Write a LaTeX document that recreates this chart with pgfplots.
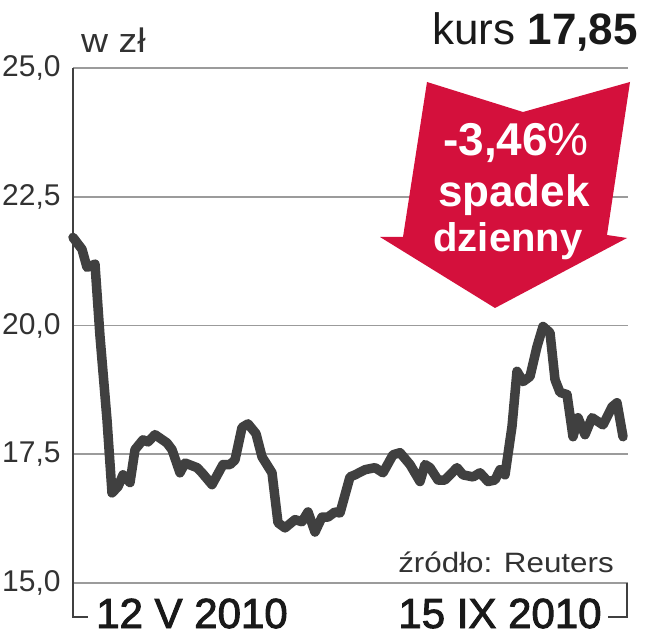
\documentclass[border=0pt]{standalone}
\usepackage{pgfplots}
\pgfplotsset{compat=1.18}
\usepackage{fontspec}
\setmainfont{Liberation Sans}
\definecolor{arrowred}{RGB}{212,16,60}
\definecolor{linegray}{RGB}{64,64,64}
\definecolor{gridgray}{RGB}{155,155,155}
\definecolor{txt}{RGB}{50,50,50}
\begin{document}
\begin{tikzpicture}
\useasboundingbox (0pt,0pt) rectangle (645pt,640pt);
\begin{axis}[
  at={(73pt,57pt)}, anchor=south west, scale only axis,
  width=555pt, height=515pt,
  xmin=73, xmax=628, ymin=15, ymax=25,
  axis line style={draw=none},
  xtick=\empty,
  ytick={15,17.5,20,22.5,25},
  yticklabels={{15,0},{17,5},{20,0},{22,5},{25,0}},
  ymajorgrids, grid style={gridgray, line width=1.8pt},
  major tick length=0pt,
  yticklabel style={anchor=west, xshift=-71pt, inner sep=0pt,
    font=\fontsize{30}{30}\selectfont, text=txt},
  clip=false,
]
\addplot[linegray, line width=9.5pt, line join=round, line cap=round] coordinates {
(73,21.71) (82,21.48) (87,21.13) (95,21.19) (100,19.79) (107,18.17)
(112,16.75) (118,16.87) (123,17.10) (130,16.95) (135,17.59) (143,17.78)
(148,17.74) (155,17.88) (167,17.72) (172,17.59) (180,17.14) (185,17.33)
(197,17.24) (202,17.14) (212,16.91) (223,17.30) (230,17.30) (235,17.39)
(242,18.02) (248,18.09) (256,17.90) (262,17.45) (272,17.14) (278,16.17)
(285,16.07) (295,16.23) (302,16.19) (308,16.38) (315,15.99) (322,16.28)
(328,16.28) (335,16.38) (340,16.36) (350,17.06) (355,17.10) (365,17.20)
(375,17.24) (383,17.14) (393,17.49) (400,17.53) (410,17.30) (420,16.97)
(425,17.30) (430,17.24) (438,17.00) (445,17.00) (457,17.24) (463,17.10)
(473,17.06) (480,17.14) (488,16.97) (495,17.00) (500,17.20) (505,17.10)
(512,18.04) (517,19.11) (523,18.91) (530,19.01) (537,19.59) (543,19.98)
(550,19.86) (555,18.95) (560,18.70) (567,18.66) (573,17.84) (578,18.21)
(585,17.88) (592,18.21) (603,18.07) (612,18.42) (617,18.50) (623,17.84)
};
\end{axis}
% left axis line and bracket
\draw[linegray, line width=1.8pt] (73pt,572pt) -- (73pt,23pt) -- (88pt,23pt);
\draw[linegray, line width=1.8pt] (608pt,23pt) -- (627pt,23pt) -- (627pt,57pt);
% arrow
\fill[arrowred] (427pt,558pt) -- (523pt,528pt) -- (630pt,558pt) -- (607pt,405pt)
  -- (627pt,402pt) -- (495pt,332pt) -- (380pt,403pt) -- (403pt,403pt) -- cycle;
\node[anchor=base, inner sep=0pt, text=white] at (516pt,484pt)
  {\fontsize{46}{46}\selectfont\bfseries -3,46{\mdseries\%}};
\node[anchor=base, inner sep=0pt, text=white] at (514pt,433pt)
  {\fontsize{44}{44}\selectfont\bfseries spadek};
\node[anchor=base, inner sep=0pt, text=white] at (508pt,388pt)
  {\fontsize{40}{40}\selectfont\bfseries dzienny};
% titles
\node[anchor=base west, inner sep=0pt, text=txt] at (81pt,587pt)
  {\fontsize{34}{34}\selectfont\addfontfeature{FakeStretch=1.1}w zł};
\node[anchor=base east, inner sep=0pt, text=black!90] at (638pt,595pt)
  {\fontsize{44}{44}\selectfont kurs \bfseries 17,85};
\node[anchor=base east, inner sep=0pt, text=txt] at (614pt,67pt)
  {\fontsize{28}{28}\selectfont\addfontfeature{FakeStretch=1.12}źródło: Reuters};
% dates
\node[anchor=base, inner sep=0pt, text=black!90] at (192pt,12pt)
  {\fontsize{42}{42}\selectfont\addfontfeature{FakeBold=2.2}12 V 2010};
\node[anchor=base, inner sep=0pt, text=black!90] at (500pt,12pt)
  {\fontsize{42}{42}\selectfont\addfontfeature{FakeBold=2.2}15 IX 2010};
\end{tikzpicture}
\end{document}
